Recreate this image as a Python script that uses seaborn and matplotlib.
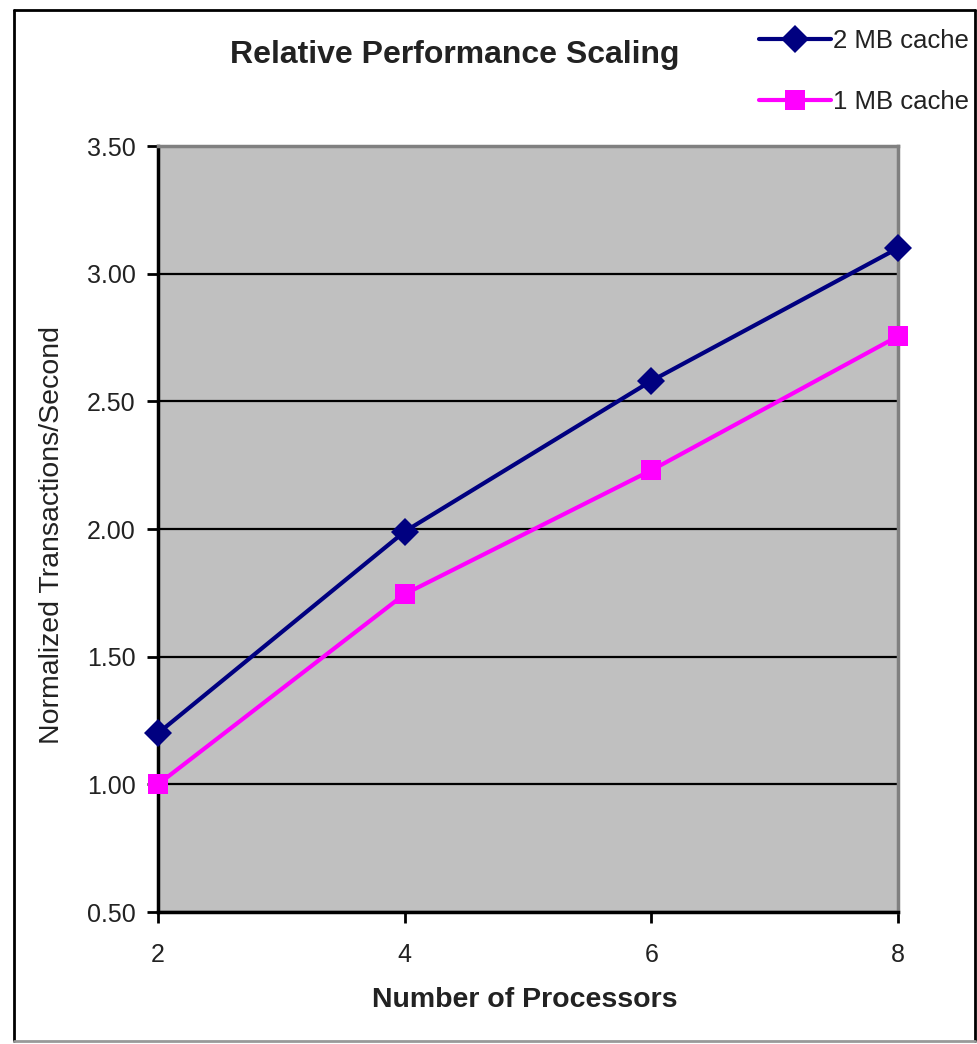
import matplotlib
matplotlib.use("Agg")
import matplotlib.pyplot as plt
from matplotlib.lines import Line2D
import seaborn as sns
import pandas as pd

# Scaling results
processors = [2, 4, 6, 8]
cache_2mb = [1.20, 1.99, 2.58, 3.10]
cache_1mb = [1.00, 1.745, 2.23, 2.755]
series_names = ["2 MB cache", "1 MB cache"]
y_ticks = [0.50, 1.00, 1.50, 2.00, 2.50, 3.00, 3.50]

df = pd.concat([
    pd.DataFrame({"procs": processors, "tps": cache_2mb, "series": series_names[0]}),
    pd.DataFrame({"procs": processors, "tps": cache_1mb, "series": series_names[1]}),
])

sns.set_theme(style="white")
plt.rcParams["font.family"] = ["Liberation Sans", "DejaVu Sans"]

W, H = 978, 1044
fig = plt.figure(figsize=(W / 100, H / 100), dpi=100)
fig.patch.set_facecolor("white")

ax = fig.add_axes([158 / W, 1 - 912 / H, (898 - 158) / W, (912 - 146) / H])
ax.set_facecolor("#C0C0C0")

palette = {series_names[0]: "#000080", series_names[1]: "#FF00FF"}
markers = {series_names[0]: "D", series_names[1]: "s"}
sns.lineplot(data=df, x="procs", y="tps", hue="series", style="series",
             palette=palette, markers=markers, dashes=False, linewidth=3,
             markersize=14, markeredgewidth=0, ax=ax, legend=False,
             clip_on=False, zorder=5)

ax.set_xlim(2, 8)
ax.set_ylim(0.5, 3.5)
ax.set_xticks(processors)
ax.set_xticklabels([str(p) for p in processors])
ax.set_yticks(y_ticks)
ax.set_yticklabels([f"{v:.2f}" for v in y_ticks])
ax.yaxis.grid(True, color="black", linewidth=1.6)
ax.xaxis.grid(False)
ax.set_axisbelow(True)
ax.set_xlabel("")
ax.set_ylabel("")

for side in ["left", "bottom"]:
    ax.spines[side].set_color("black")
    ax.spines[side].set_linewidth(2.5)
for side in ["top", "right"]:
    ax.spines[side].set_color("#808080")
    ax.spines[side].set_linewidth(2.5)
ax.spines["top"].set_visible(True)
ax.spines["right"].set_visible(True)

ax.tick_params(axis="both", which="major", direction="out", length=8, width=2,
               color="black", labelsize=18, labelcolor="#222222")
ax.tick_params(axis="y", pad=8, left=True)
ax.tick_params(axis="x", pad=14, bottom=True)

fig.text(455 / W, 1 - 55 / H, "Relative Performance Scaling", ha="center",
         va="center", fontsize=23, fontweight="bold", color="#222222")
fig.text(525 / W, 1 - 1000 / H, "Number of Processors", ha="center",
         va="center", fontsize=20.5, fontweight="bold", color="#222222")
fig.text(52 / W, 1 - 535 / H, "Normalized Transactions/Second", ha="center",
         va="center", rotation=90, fontsize=20.5, color="#222222")

handles = [
    Line2D([], [], color=palette[n], marker=markers[n], linewidth=3,
           markersize=14, markeredgewidth=0)
    for n in series_names
]
fig.legend(handles, series_names, loc="upper left",
           bbox_to_anchor=(746 / W, 1 - 16 / H), frameon=False, fontsize=18.5,
           handlelength=2.8, handletextpad=0.1, labelspacing=1.45,
           borderpad=0, labelcolor="#222222")

# outer frame
fig.add_artist(Line2D([14 / W, 14 / W], [1 - 10 / H, 1 - 1041 / H], color="black", lw=2))
fig.add_artist(Line2D([14 / W, 975 / W], [1 - 10 / H, 1 - 10 / H], color="black", lw=2))
fig.add_artist(Line2D([975 / W, 975 / W], [1 - 10 / H, 1 - 1041 / H], color="black", lw=2))
fig.add_artist(Line2D([14 / W, 975 / W], [1 - 1041 / H, 1 - 1041 / H], color="#999999", lw=2))

fig.savefig("out.png", dpi=100)
